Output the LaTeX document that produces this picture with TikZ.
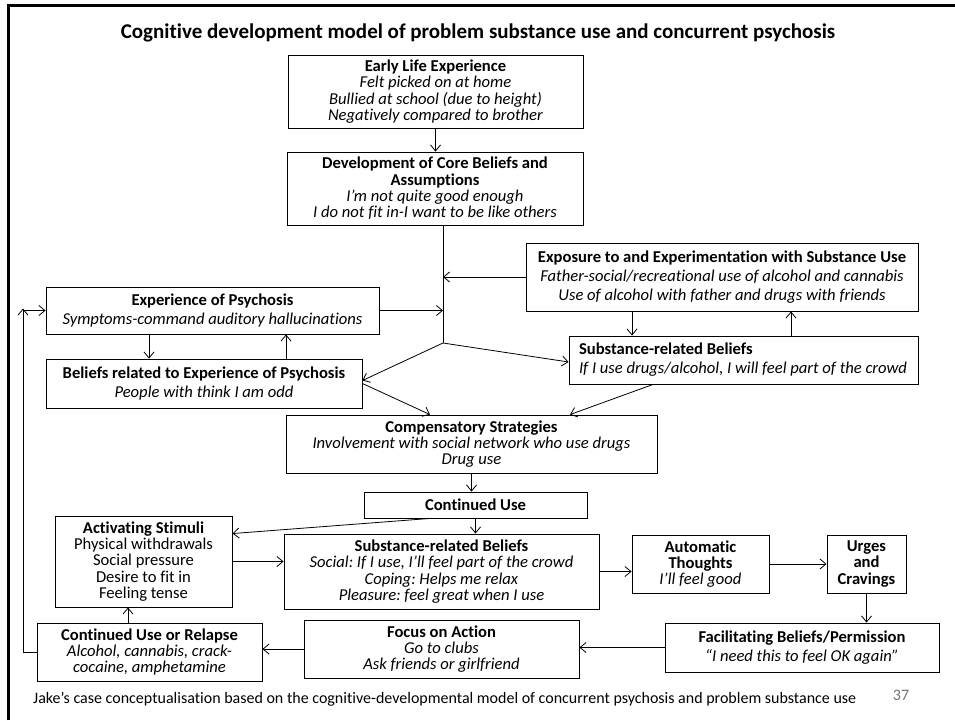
\documentclass[tikz,border=0pt]{standalone}
\usepackage{fontspec}
\setmainfont{Carlito}[Ligatures=NoCommon]
\usetikzlibrary{arrows.meta,calc}
\frenchspacing
\newcommand\bxfont{\fontsize{16.6}{16.3}\selectfont}
\newcommand\bxfontwide{\fontsize{16.6}{19}\selectfont}
\begin{document}
\begin{tikzpicture}[x=1pt,y=-1pt,
  box/.style={draw, line width=0.9pt, inner xsep=3pt, inner ysep=0pt, align=center, font=\bxfont},
  widebox/.style={box, font=\bxfontwide},
  arr/.style={line width=0.8pt, -{Straight Barb[length=6pt,width=10pt,line width=0.8pt]}},
  ln/.style={line width=0.8pt}]
\useasboundingbox (0,0) rectangle (955,720);
% slide border
\draw[line width=2.8pt] (8.5,720) -- (8.5,5.5) -- (955,5.5);
% title
\node[font=\fontsize{21}{24}\selectfont\bfseries] (title) at (478,33) {Cognitive development model of problem substance use and concurrent psychosis};
% boxes
\node[box, minimum width=295pt, minimum height=73pt] (early) at (435.5,91.5)
  {\textbf{Early Life Experience}\\\textit{Felt picked on at home}\\\textit{Bullied at school (due to height)}\\\textit{Negatively compared to brother}};
\node[box, minimum width=296pt, minimum height=73pt] (core) at (435,188.5)
  {\textbf{Development of Core Beliefs and}\\\textbf{Assumptions}\\\textit{I’m not quite good enough}\\\textit{I do not fit in-I want to be like others}};
\node[widebox, minimum width=392pt, minimum height=68pt] (expo) at (722,277)
  {\textbf{Exposure to and Experimentation with Substance Use}\\\textit{Father-social/recreational use of alcohol and cannabis}\\\textit{Use of alcohol with father and drugs with friends}};
\node[widebox, minimum width=333pt, minimum height=47pt] (psy) at (212.5,310.5)
  {\textbf{Experience of Psychosis}\\\textit{Symptoms-command auditory hallucinations}};
\node[widebox, minimum width=316pt, minimum height=49pt] (belrel) at (204,383.5)
  {\textbf{Beliefs related to Experience of Psychosis}\\\textit{People with think I am odd}};
\node[widebox, align=flush left, text width=329pt, inner xsep=10pt, minimum height=48pt] (sbone) at (743.5,360)
  {\textbf{Substance-related Beliefs}\\\textit{If I use drugs/alcohol, I will feel part of the crowd}};
\node[box, minimum width=371pt, minimum height=58pt] (comp) at (471.5,444)
  {\textbf{Compensatory Strategies}\\\textit{Involvement with social network who use drugs}\\\textit{Drug use}};
\node[box, minimum width=223pt, minimum height=26pt] (cont) at (475.5,505)
  {\textbf{Continued Use}};
\node[box, minimum width=177pt, minimum height=91pt] (act) at (143.5,561.5)
  {\textbf{Activating Stimuli}\\Physical withdrawals\\Social pressure\\Desire to fit in\\Feeling tense};
\node[box, minimum width=315pt, minimum height=75pt] (sbtwo) at (441.5,571.5)
  {\textbf{Substance-related Beliefs}\\\textit{Social: If I use, I’ll feel part of the crowd}\\\textit{Coping: Helps me relax}\\\textit{Pleasure: feel great when I use}};
\node[box, minimum width=137pt, minimum height=58pt] (auto) at (700.5,564)
  {\textbf{Automatic}\\\textbf{Thoughts}\\\textit{I’ll feel good}};
\node[box, minimum width=79pt, minimum height=58pt] (urges) at (866.5,564)
  {\textbf{Urges}\\\textbf{and}\\\textbf{Cravings}};
\node[widebox, minimum width=274pt, minimum height=49pt] (fac) at (802,647.5)
  {\textbf{Facilitating Beliefs/Permission}\\\textit{“I need this to feel OK again”}};
\node[box, minimum width=275pt, minimum height=58pt] (focus) at (441.5,649)
  {\textbf{Focus on Action}\\\textit{Go to clubs}\\\textit{Ask friends or girlfriend}};
\node[box, minimum width=225pt, minimum height=58pt] (relapse) at (149.5,652)
  {\textbf{Continued Use or Relapse}\\\textit{Alcohol, cannabis, crack-}\\\textit{cocaine, amphetamine}};
% footer
\node[anchor=west, inner sep=0pt, font=\fontsize{16}{18}\selectfont] (foot) at (33,699)
  {Jake’s case conceptualisation based on the cognitive-developmental model of concurrent psychosis and problem substance use};
\node[font=\fontsize{16}{18}\selectfont, text=black!55] (pnum) at (901,695) {37};
% helper coordinates
\coordinate (J) at (443,343);
\coordinate (pd) at (149,0);
\coordinate (pu) at (286,0);
\coordinate (ed) at (632,0);
\coordinate (eu) at (791,0);
\coordinate (bc) at (430,0);
\coordinate (sc) at (653,0);
\coordinate (cc) at (570,0);
\coordinate (ca) at (430,0);
\coordinate (ra) at (128,0);
\coordinate (lp) at (23,0);
% connectors
\draw[arr] (early.south) -- (early.south |- core.north);
\draw[ln] (core.south -| J) -- (J);
\draw[arr] (expo.west) -- (expo.west -| J);
\draw[arr] (psy.east) -- (psy.east -| J);
\draw[arr] (J) -- ([yshift=3pt]belrel.east);
\draw[arr] (J) -- ([yshift=-2pt]sbone.west);
\draw[arr] (pd |- psy.south) -- (pd |- belrel.north);
\draw[arr] (pu |- belrel.north) -- (pu |- psy.south);
\draw[arr] (ed |- expo.south) -- (ed |- sbone.north);
\draw[arr] (eu |- sbone.north) -- (eu |- expo.south);
\draw[arr] (belrel.east) -- (bc |- comp.north);
\draw[arr] (sc |- sbone.south) -- (cc |- comp.north);
\draw[arr] (comp.south) -- (comp.south |- cont.north);
\draw[arr] (cont.south) -- (cont.south |- sbtwo.north);
\draw[arr] (ca |- cont.south) -- ([yshift=-18pt]act.north east);
\draw[arr] (act.east) -- (act.east -| sbtwo.west);
\draw[arr] (sbtwo.east) -- (sbtwo.east -| auto.west);
\draw[arr] (auto.east) -- (auto.east -| urges.west);
\draw[arr] (urges.south) -- (urges.south |- fac.north);
\draw[arr] (fac.west) -- (fac.west -| focus.east);
\draw[arr] (focus.west) -- (focus.west -| relapse.east);
\draw[arr] (ra |- relapse.north) -- (ra |- act.south);
\draw[arr] (relapse.west) -| ([yshift=2pt]lp |- psy.west);
\draw[arr] (lp |- psy.west) -- (psy.west);
\end{tikzpicture}
\end{document}
